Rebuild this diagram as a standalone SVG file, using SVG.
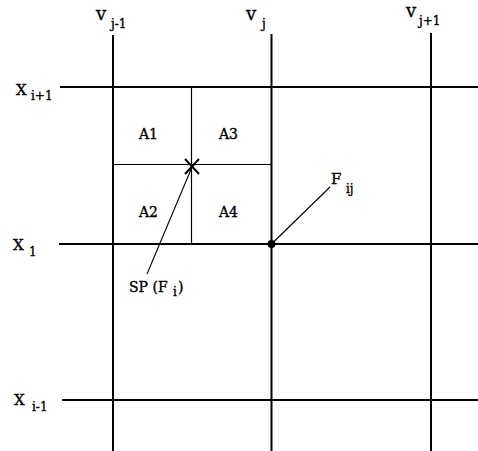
<svg xmlns="http://www.w3.org/2000/svg" width="478" height="451" viewBox="0 0 478 451">
<style>
.bg{fill:#fff}
.main{stroke:#000;stroke-width:2;fill:none}
.thin{stroke:#000;stroke-width:1.2;fill:none}
.lead{stroke:#000;stroke-width:1.1;fill:none}
text{font-family:"DejaVu Serif","Liberation Serif",serif;fill:#000;stroke:#000;stroke-width:0.35}
.big{font-size:18px}
.cap{font-size:15px}
.sub{font-size:12px}
.lbl{font-size:14px}
</style>
<rect class="bg" x="0" y="0" width="478" height="451"/>
<g id="grid">
<line id="v-jm1" class="main" x1="113" y1="35" x2="113" y2="451"/>
<line id="v-j" class="main" x1="271.5" y1="34" x2="271.5" y2="451"/>
<line id="v-jp1" class="main" x1="431" y1="33" x2="431" y2="451"/>
<line id="x-ip1" class="main" x1="60" y1="87" x2="478" y2="87"/>
<line id="x-i" class="main" x1="59" y1="244" x2="478" y2="244"/>
<line id="x-im1" class="main" x1="62" y1="400" x2="478" y2="400"/>
<line class="thin" x1="191.5" y1="87" x2="191.5" y2="244"/>
<line class="thin" x1="113" y1="164.5" x2="271.5" y2="164.5"/>
</g>
<g id="labels-v">
<text class="big" x="96" y="20">v</text><text class="sub" x="111" y="28">j-1</text>
<text class="big" x="246" y="20">v</text><text class="sub" x="262" y="28">j</text>
<text class="big" x="406" y="17">v</text><text class="sub" x="419" y="25">j+1</text>
</g>
<g id="labels-x">
<text class="cap" x="16" y="95">X</text><text class="sub" x="31" y="100">i+1</text>
<text class="cap" x="13" y="250">X</text><text class="sub" x="29" y="256">1</text>
<text class="cap" x="14" y="405">X</text><text class="sub" x="32" y="411">i-1</text>
</g>
<g id="A1"><text class="lbl" x="148.5" y="139" text-anchor="middle">A1</text></g>
<g id="A3"><text class="lbl" x="228.5" y="139" text-anchor="middle">A3</text></g>
<g id="A2"><text class="lbl" x="148.5" y="217" text-anchor="middle">A2</text></g>
<g id="A4"><text class="lbl" x="228.5" y="217" text-anchor="middle">A4</text></g>
<g id="SP">
<path class="main" d="M185 159 L199 174 M199 159 L185 174" stroke-width="1.6"/>
<text class="lbl" x="129" y="292">SP (F</text><text class="sub" x="173" y="296">i</text><text class="lbl" x="178" y="292">)</text>
</g>
<g id="Fij">
<circle cx="271.5" cy="244" r="4" fill="#000"/>
<text class="cap" x="331" y="184">F</text><text class="sub" x="346" y="193">ij</text>
</g>
<g id="connectors">
<line class="lead" x1="192" y1="167" x2="147" y2="274"/>
<line class="lead" x1="271.5" y1="244" x2="330" y2="187"/>
</g>
</svg>
